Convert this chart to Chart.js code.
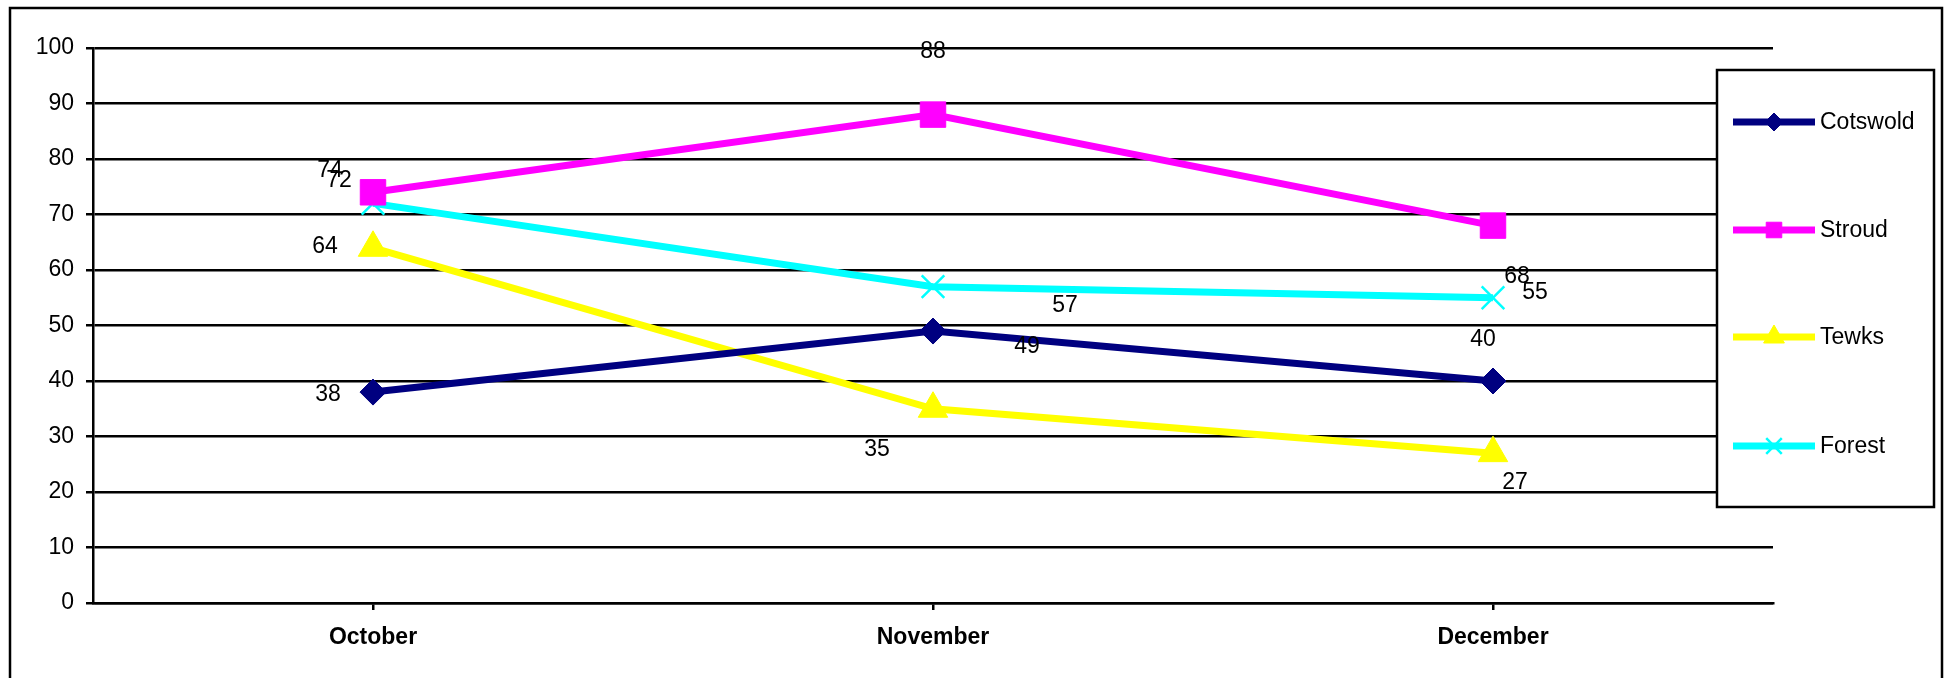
<!DOCTYPE html>
<html>
<head>
<meta charset="utf-8">
<script src="https://cdn.jsdelivr.net/npm/chart.js@4.4.1/dist/chart.umd.min.js"></script>
<style>
html,body{margin:0;padding:0;background:#fff;}
#wrap{position:relative;width:1950px;height:678px;}
</style>
</head>
<body>
<div id="wrap"><canvas id="c" width="1950" height="678"></canvas></div>
<script>
const categories = ['October', 'November', 'December'];
const cotswold = [38, 49, 40];
const stroud = [74, 88, 68];
const tewks = [64, 35, 27];
const forest = [72, 57, 55];
const seriesNames = ['Cotswold', 'Stroud', 'Tewks', 'Forest'];
const yMin = 0, yMax = 100, yStep = 10;

const FONT = "'Liberation Sans', Arial, sans-serif";

// label offsets (px) relative to each point, per series
const labelOffsets = [
  [[-45, 3], [94, 16], [-10, -41]],
  [[-43, -22], [0, -63], [24, 51]],
  [[-48, -1], [-56, 41], [22, 30]],
  [[-34, -23], [132, 19], [42, -5]]
];

const frame = {
  id: 'frame',
  beforeDraw(chart) {
    const ctx = chart.ctx;
    ctx.save();
    ctx.fillStyle = '#fff';
    ctx.fillRect(0, 0, chart.width, chart.height);
    ctx.strokeStyle = '#000';
    ctx.lineWidth = 2.5;
    ctx.strokeRect(10, 8, 1932, 720);
    ctx.restore();
  }
};

const dataLabels = {
  id: 'dataLabels',
  afterDatasetsDraw(chart) {
    const ctx = chart.ctx;
    ctx.save();
    ctx.font = '23px ' + FONT;
    ctx.fillStyle = '#000';
    ctx.textAlign = 'center';
    ctx.textBaseline = 'middle';
    chart.data.datasets.forEach((ds, di) => {
      const meta = chart.getDatasetMeta(di);
      meta.data.forEach((pt, i) => {
        const off = labelOffsets[di][i];
        ctx.fillText(String(ds.data[i]), pt.x + off[0], pt.y + off[1]);
      });
    });
    ctx.restore();
  }
};

const customLegend = {
  id: 'customLegend',
  afterDraw(chart) {
    const ctx = chart.ctx;
    ctx.save();
    const bx = 1717, by = 70, bw = 217, bh = 437;
    ctx.fillStyle = '#fff';
    ctx.fillRect(bx, by, bw, bh);
    ctx.strokeStyle = '#000';
    ctx.lineWidth = 2.5;
    ctx.strokeRect(bx, by, bw, bh);
    const rowsY = [122, 230, 337, 446];
    const legendRadius = [9, 11, 12, 11];
    chart.data.datasets.forEach((ds, di) => {
      const y = rowsY[di];
      ctx.strokeStyle = ds.borderColor;
      ctx.lineWidth = 7;
      ctx.beginPath();
      ctx.moveTo(1733, y);
      ctx.lineTo(1815, y);
      ctx.stroke();
      ctx.fillStyle = ds.pointBackgroundColor;
      ctx.strokeStyle = ds.pointBorderColor;
      ctx.lineWidth = ds.pointBorderWidth;
      Chart.helpers.drawPoint(ctx, {
        pointStyle: ds.pointStyle,
        radius: legendRadius[di],
        borderWidth: ds.pointBorderWidth,
        rotation: 0
      }, 1774, y);
      ctx.font = '23px ' + FONT;
      ctx.fillStyle = '#000';
      ctx.textAlign = 'left';
      ctx.textBaseline = 'middle';
      ctx.fillText(ds.label, 1820, y + 1);
    });
    ctx.restore();
  }
};

const colors = ['#000080', '#FF00FF', '#FFFF00', '#00FFFF'];
const styles = ['rectRot', 'rect', 'triangle', 'crossRot'];
const radii = [13, 18, 17, 16];
const values = [cotswold, stroud, tewks, forest];

const datasets = values.map((vals, i) => ({
  label: seriesNames[i],
  data: vals,
  borderColor: colors[i],
  backgroundColor: colors[i],
  borderWidth: 7,
  pointStyle: styles[i],
  pointRadius: radii[i],
  pointHoverRadius: radii[i],
  pointBackgroundColor: colors[i],
  pointBorderColor: colors[i],
  pointBorderWidth: styles[i] === 'crossRot' ? 2.5 : 1,
  tension: 0,
  fill: false
}));

new Chart(document.getElementById('c'), {
  type: 'line',
  data: { labels: categories, datasets: datasets },
  options: {
    responsive: false,
    animation: false,
    devicePixelRatio: 1,
    layout: { padding: { left: 0, right: 177, top: 48, bottom: 0 } },
    plugins: {
      legend: { display: false },
      tooltip: { enabled: false },
      title: { display: false }
    },
    scales: {
      x: {
        offset: true,
        ticks: { color: '#000', font: { family: FONT, size: 23, weight: 'bold' }, padding: 14, maxRotation: 0 },
        grid: { drawOnChartArea: false, drawTicks: true, color: '#000', lineWidth: 2.5, tickLength: 7 },
        border: { display: true, color: '#000', width: 2.5 },
        afterFit: s => { s.height = 75; }
      },
      y: {
        min: yMin, max: yMax,
        ticks: { stepSize: yStep, color: '#000', font: { family: FONT, size: 23 }, padding: 12 },
        grid: { color: '#000', lineWidth: 2.5, tickLength: 7, drawTicks: true },
        border: { display: true, color: '#000', width: 2.5 },
        afterFit: s => { s.width = 93; }
      }
    }
  },
  plugins: [frame, dataLabels, customLegend]
});
</script>
</body>
</html>
